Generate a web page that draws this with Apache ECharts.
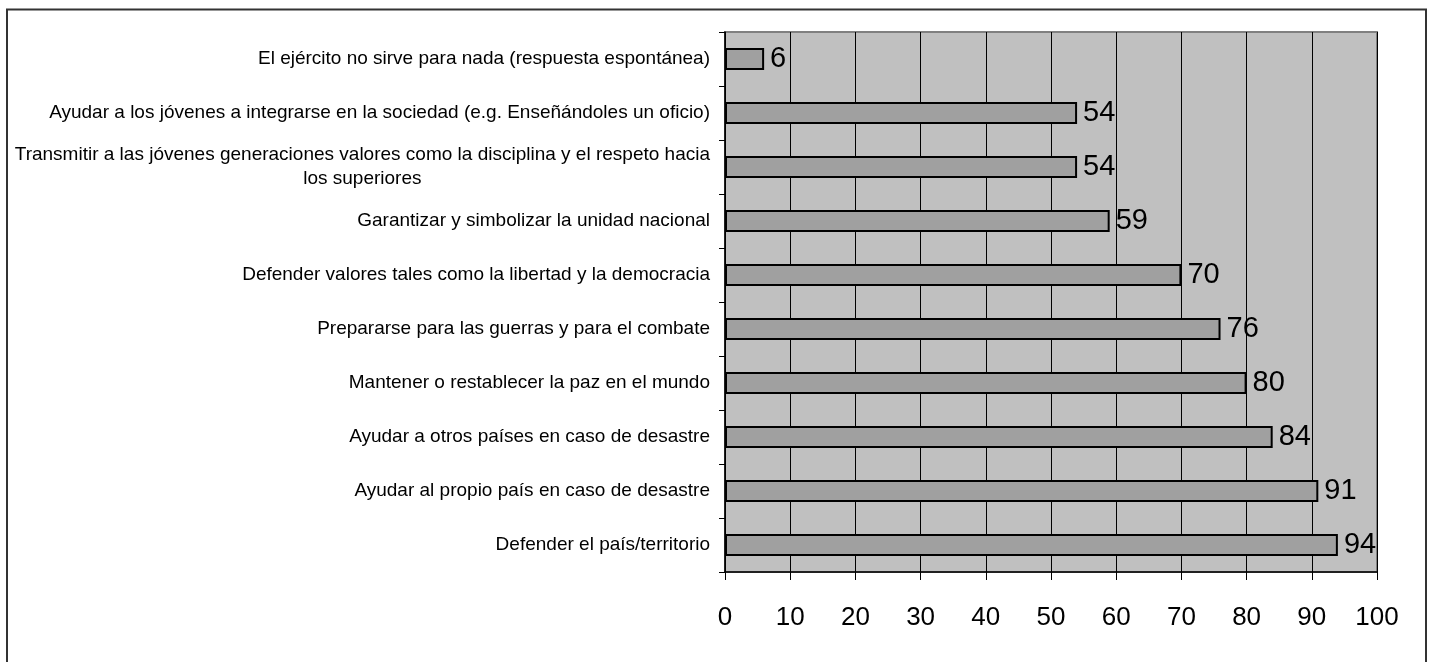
<!DOCTYPE html>
<html>
<head>
<meta charset="utf-8">
<style>
  html, body { margin: 0; padding: 0; background: #ffffff; }
  #chart { width: 1433px; height: 662px; }
</style>
<script src="https://cdn.jsdelivr.net/npm/echarts@6/dist/echarts.min.js"></script>
</head>
<body>
<div id="chart"></div>
<script>
// Roles of the armed forces, listed top to bottom (percent)
const categories = [
  'El ejército no sirve para nada (respuesta espontánea)',
  'Ayudar a los jóvenes a integrarse en la sociedad (e.g. Enseñándoles un oficio)',
  'Transmitir a las jóvenes generaciones valores como la disciplina y el respeto hacia\nlos superiores',
  'Garantizar y simbolizar la unidad nacional',
  'Defender valores tales como la libertad y la democracia',
  'Prepararse para las guerras y para el combate',
  'Mantener o restablecer la paz en el mundo',
  'Ayudar a otros países en caso de desastre',
  'Ayudar al propio país en caso de desastre',
  'Defender el país/territorio'
];
const values = [6, 54, 54, 59, 70, 76, 80, 84, 91, 94];
const xTicks = { min: 0, max: 100, interval: 10 };

const chart = echarts.init(document.getElementById('chart'), null, { renderer: 'canvas' });

chart.setOption({
  backgroundColor: '#ffffff',
  animation: false,
  textStyle: { fontFamily: 'Liberation Sans, Arial, sans-serif' },
  graphic: [{
    type: 'rect',
    shape: { x: 7, y: 9.5, width: 1419, height: 720 },
    style: { fill: null, stroke: '#333333', lineWidth: 2 },
    z: 100
  }],
  grid: {
    left: 725, right: 56, top: 32, bottom: 90,
    show: true,
    backgroundColor: '#c0c0c0',
    borderColor: '#808080',
    borderWidth: 2
  },
  xAxis: {
    type: 'value',
    min: xTicks.min, max: xTicks.max, interval: xTicks.interval,
    axisLine: { show: true, lineStyle: { color: '#000000', width: 1.5 } },
    axisTick: { show: true, length: 8, lineStyle: { color: '#000000', width: 1 } },
    axisLabel: { color: '#000000', fontSize: 26, margin: 33 },
    splitLine: { show: true, lineStyle: { color: '#000000', width: 1 } }
  },
  yAxis: {
    type: 'category',
    inverse: true,
    data: categories,
    axisLine: { show: true, lineStyle: { color: '#000000', width: 1.5 } },
    axisTick: { show: true, length: 6, lineStyle: { color: '#000000' } },
    axisLabel: {
      color: '#000000',
      fontSize: 19,
      margin: 15,
      lineHeight: 24,
      formatter: function (v) {
        const lines = v.split('\n');
        return lines.map(function (l, i) {
          return (i === 0 ? '{a|' : '{c|') + l + '}';
        }).join('\n');
      },
      rich: {
        a: { fontSize: 19, lineHeight: 24, color: '#000000' },
        c: { fontSize: 19, lineHeight: 24, color: '#000000', align: 'center' }
      }
    },
    splitLine: { show: false }
  },
  series: [{
    type: 'bar',
    data: values,
    barWidth: 22,
    itemStyle: { color: '#a0a0a0', borderColor: '#000000', borderWidth: 2 },
    label: {
      show: true,
      position: 'right',
      distance: 6,
      color: '#000000',
      fontSize: 29
    }
  }]
});
</script>
</body>
</html>
